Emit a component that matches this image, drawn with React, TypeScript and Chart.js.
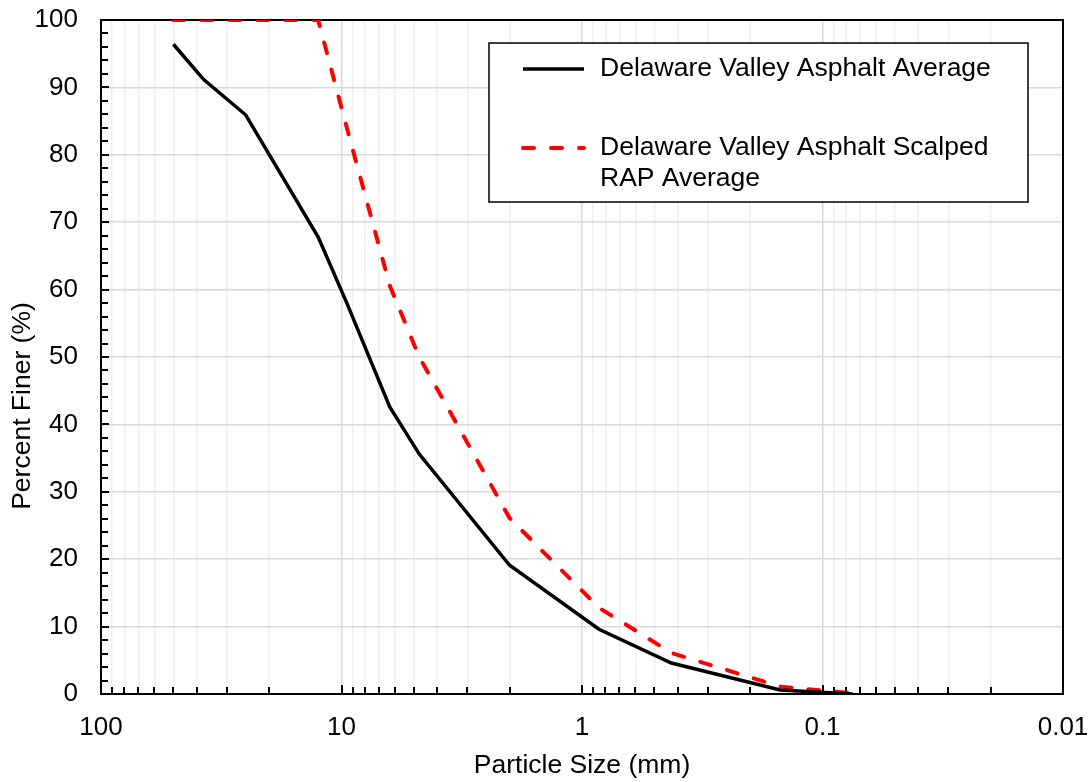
import React, { useEffect, useRef } from 'react';
import { Chart, registerables } from 'chart.js';

Chart.register(...registerables);

// ---- Data ----
const sieveSizes = [50, 37.5, 25, 12.5, 9.5, 6.3, 4.75, 2.0, 0.85, 0.425, 0.15, 0.075];
const dvaAverage = [96.4, 91.2, 85.9, 67.8, 58.0, 42.6, 35.6, 19.1, 9.6, 4.6, 0.6, 0.0];
const dvaScalpedRap = [100, 100, 100, 100, 84.0, 60.6, 50.0, 26.1, 12.8, 6.1, 1.1, 0.1];

const seriesNames = [
  'Delaware Valley Asphalt Average',
  'Delaware Valley Asphalt Scalped RAP Average',
];
const legendLines = [
  ['Delaware Valley Asphalt Average'],
  ['Delaware Valley Asphalt Scalped', 'RAP Average'],
];
const xDecades = [0.01, 0.1, 1, 10, 100];
const xDecadeLabels = ['0.01', '0.1', '1', '10', '100'];
const yMin = 0;
const yMax = 100;
const yStep = 10;
const yMinorStep = 2;

const xTitle = 'Particle Size (mm)';
const yTitle = 'Percent Finer (%)';

const FONT = '"Liberation Sans", Arial, Helvetica, sans-serif';

function buildXTicks() {
  const out: { value: number; major: boolean; label: string }[] = [];
  for (let i = 0; i < xDecades.length; i++) {
    const d = xDecades[i];
    out.push({ value: d, major: true, label: xDecadeLabels[i] });
    if (i < xDecades.length - 1) {
      for (let m = 2; m <= 9; m++) {
        out.push({ value: parseFloat((m * d).toPrecision(6)), major: false, label: '' });
      }
    }
  }
  return out;
}

const framePlugin = {
  id: 'frameTicks',
  beforeDatasetsDraw(chart: any) {
    const { ctx, chartArea, scales } = chart;
    const { left, right, top, bottom } = chartArea;
    ctx.save();
    ctx.strokeStyle = '#000';
    ctx.lineWidth = 2;
    for (let v = yMin; v <= yMax; v += yMinorStep) {
      const y = Math.round(scales.y.getPixelForValue(v));
      const len = v % yStep === 0 ? 8 : 7;
      ctx.beginPath();
      ctx.moveTo(left, y);
      ctx.lineTo(left + len, y);
      ctx.stroke();
    }
    for (const t of buildXTicks()) {
      const x = Math.round(scales.x.getPixelForValue(t.value));
      const len = t.major ? 9 : 7;
      ctx.beginPath();
      ctx.moveTo(x, bottom);
      ctx.lineTo(x, bottom - len);
      ctx.stroke();
    }
    ctx.lineWidth = 2;
    ctx.strokeRect(left, top, right - left, bottom - top);
    ctx.restore();
  },
  afterDraw(chart: any) {
    const { ctx } = chart;
    ctx.save();
    ctx.translate(23, 406);
    ctx.rotate(-Math.PI / 2);
    ctx.font = `26.5px ${FONT}`;
    ctx.fillStyle = '#000';
    ctx.textAlign = 'center';
    ctx.textBaseline = 'middle';
    ctx.fillText(yTitle, 0, 0);
    ctx.restore();
  },
};

const legendPlugin = {
  id: 'boxLegend',
  afterDraw(chart: any) {
    const { ctx } = chart;
    const ds = chart.data.datasets;
    const bx = 489, by = 43, bw = 539, bh = 159;
    ctx.save();
    ctx.fillStyle = '#fff';
    ctx.fillRect(bx, by, bw, bh);
    ctx.strokeStyle = '#000';
    ctx.lineWidth = 1.5;
    ctx.strokeRect(bx, by, bw, bh);
    const rows = [69, 148];
    ctx.font = `26.5px ${FONT}`;
    ctx.textBaseline = 'middle';
    ctx.textAlign = 'left';
    for (let i = 0; i < ds.length; i++) {
      const y = rows[i];
      ctx.beginPath();
      ctx.strokeStyle = ds[i].borderColor;
      ctx.lineWidth = ds[i].borderWidth;
      ctx.lineCap = ds[i].borderCapStyle || 'butt';
      ctx.setLineDash(ds[i].borderDash || []);
      ctx.moveTo(523, y);
      ctx.lineTo(584, y);
      ctx.stroke();
      ctx.setLineDash([]);
      ctx.fillStyle = '#000';
      legendLines[i].forEach((line, j) => {
        ctx.fillText(line, 600, y + j * 31);
      });
    }
    ctx.restore();
  },
};

export default function App() {
  const canvasRef = useRef<HTMLCanvasElement | null>(null);

  useEffect(() => {
    const canvas = canvasRef.current;
    if (!canvas) return;
    const xTicks = buildXTicks();
    const chart = new Chart(canvas, {
      type: 'line',
      data: {
        datasets: [
          {
            label: seriesNames[0],
            data: sieveSizes.map((s, i) => ({ x: s, y: dvaAverage[i] })),
            borderColor: '#000000',
            borderWidth: 3.5,
            pointRadius: 0,
            fill: false,
            tension: 0,
          },
          {
            label: seriesNames[1],
            data: sieveSizes.map((s, i) => ({ x: s, y: dvaScalpedRap[i] })),
            borderColor: '#ff0000',
            borderWidth: 4,
            borderDash: [11, 17],
            borderCapStyle: 'round',
            pointRadius: 0,
            fill: false,
            tension: 0,
          },
        ],
      } as any,
      options: {
        responsive: false,
        animation: false,
        devicePixelRatio: 1,
        layout: { padding: { left: 0, right: 28, top: 20, bottom: 0 } },
        plugins: {
          legend: { display: false },
          tooltip: { enabled: false },
        },
        scales: {
          x: {
            type: 'logarithmic',
            reverse: true,
            min: 0.01,
            max: 100,
            border: { display: false },
            grid: {
              drawTicks: false,
              color: (c: any) => (c.tick && c.tick.major ? '#d9d9d9' : '#efefef'),
              lineWidth: 1.5,
            },
            ticks: {
              autoSkip: false,
              maxRotation: 0,
              minRotation: 0,
              padding: 18,
              color: '#000',
              font: { family: FONT, size: 26 },
              callback: (_v: any, i: number, ticks: any[]) => (ticks[i] && ticks[i].label) || '',
            },
            afterBuildTicks: (scale: any) => {
              scale.ticks = xTicks.map((t) => ({ ...t }));
            },
            afterFit: (scale: any) => {
              scale.height = 88;
              scale.paddingLeft = 0;
              scale.paddingRight = 0;
            },
            title: {
              display: true,
              text: xTitle,
              color: '#000',
              font: { family: FONT, size: 26.5 },
              padding: { top: 0, bottom: 0 },
            },
          } as any,
          y: {
            type: 'linear',
            min: yMin,
            max: yMax,
            border: { display: false },
            grid: { drawTicks: false, color: '#d9d9d9', lineWidth: 1.5 },
            ticks: {
              stepSize: yStep,
              padding: 23,
              color: '#000',
              font: { family: FONT, size: 26 },
            },
            afterFit: (scale: any) => {
              scale.width = 101;
              scale.paddingTop = 0;
              scale.paddingBottom = 0;
            },
            title: { display: false },
          } as any,
        },
      },
      plugins: [framePlugin, legendPlugin],
    });
    return () => chart.destroy();
  }, []);

  return (
    <div style={{ position: 'fixed', left: 0, top: 0, width: 1091, height: 782, background: '#fff' }}>
      <canvas ref={canvasRef} width={1091} height={782} style={{ display: 'block' }} aria-label={`${yTitle} vs ${xTitle}`} />
    </div>
  );
}
